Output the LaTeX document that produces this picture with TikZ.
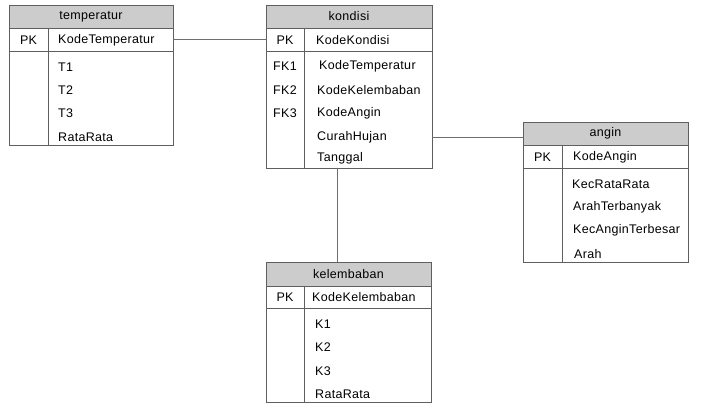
\documentclass[tikz,border=0pt]{standalone}
\usepackage{fontspec}
\setmainfont[LetterSpace=2.5]{Liberation Sans}
\definecolor{hdrgray}{RGB}{204,204,204}
\definecolor{edge}{RGB}{95,95,95}
\definecolor{linkcol}{RGB}{110,110,110}
\tikzset{
  cell/.style={draw=edge, line width=0.9pt, inner sep=0pt, outer sep=0pt, anchor=north west, font=\fontsize{12.5}{15}\selectfont},
  hdr/.style={cell, fill=hdrgray},
  fld/.style={anchor=west, inner sep=0pt, font=\fontsize{12.5}{15}\selectfont},
  key/.style={anchor=center, inner sep=0pt, font=\fontsize{12.5}{15}\selectfont},
  divider/.style={draw=edge, line width=0.9pt},
  link/.style={draw=linkcol, line width=0.8pt}
}
\begin{document}
\begin{tikzpicture}[x=1pt,y=-1pt]
\useasboundingbox (0,0) rectangle (702,414);
% temperatur
\node[hdr, minimum width=164pt, minimum height=23pt] (th) at (9,5) {temperatur};
\node[cell, minimum width=164pt, minimum height=23pt] (tp) at (9,28) {};
\node[cell, minimum width=164pt, minimum height=94pt] (tb) at (9,51) {};
\draw[divider] (48,28) -- (48,145);
\node[key] (tpk) at (28.5,40) {PK};
\node[fld] (tkode) at (58,40) {KodeTemperatur};
\node[fld] (t1) at (58,67) {T1};
\node[fld] (t2) at (58,90) {T2};
\node[fld] (t3) at (58,113) {T3};
\node[fld] (tr) at (58,137) {RataRata};
% kondisi
\node[hdr, minimum width=166pt, minimum height=23pt] (kh) at (266,5) {kondisi};
\node[cell, minimum width=166pt, minimum height=23pt] (kp) at (266,28) {};
\node[cell, minimum width=166pt, minimum height=117pt] (kb) at (266,51) {};
\draw[divider] (304,28) -- (304,168);
\node[key] (kpk) at (285,40) {PK};
\node[fld] (kkode) at (316,40) {KodeKondisi};
\node[key] (kfk1) at (285,66) {FK1};
\node[fld] (kf1) at (319,66) {KodeTemperatur};
\node[key] (kfk2) at (285,90) {FK2};
\node[fld] (kf2) at (317,90) {KodeKelembaban};
\node[key] (kfk3) at (285,113) {FK3};
\node[fld] (kf3) at (317,113) {KodeAngin};
\node[fld] (kcur) at (317,137) {CurahHujan};
\node[fld] (ktgl) at (317,158) {Tanggal};
% angin
\node[hdr, minimum width=165pt, minimum height=23pt] (ah) at (523,122) {angin};
\node[cell, minimum width=165pt, minimum height=23pt] (ap) at (523,145) {};
\node[cell, minimum width=165pt, minimum height=94pt] (ab) at (523,168) {};
\draw[divider] (562,145) -- (562,262);
\node[key] (apk) at (542.5,157) {PK};
\node[fld] (akode) at (573,157) {KodeAngin};
\node[fld] (a1) at (572,184) {KecRataRata};
\node[fld] (a2) at (573,207) {ArahTerbanyak};
\node[fld] (a3) at (573,230) {KecAnginTerbesar};
\node[fld] (a4) at (574,254) {Arah};
% kelembaban
\node[hdr, minimum width=165pt, minimum height=24pt] (lh) at (266,262) {kelembaban};
\node[cell, minimum width=165pt, minimum height=22pt] (lp) at (266,286) {};
\node[cell, minimum width=165pt, minimum height=94pt] (lb) at (266,308) {};
\draw[divider] (304,286) -- (304,402);
\node[key] (lpk) at (285,297) {PK};
\node[fld] (lkode) at (312,297) {KodeKelembaban};
\node[fld] (l1) at (315,324) {K1};
\node[fld] (l2) at (315,347) {K2};
\node[fld] (l3) at (315,371) {K3};
\node[fld] (lr) at (315,394) {RataRata};
% connectors
\coordinate (kdown) at (337,168);
\draw[link] (tp.east) -- (kp.west);
\draw[link] (kb.east |- kcur) -- (ah.west |- kcur);
\draw[link] (kdown) -- (kdown |- lh.north);
\end{tikzpicture}
\end{document}
